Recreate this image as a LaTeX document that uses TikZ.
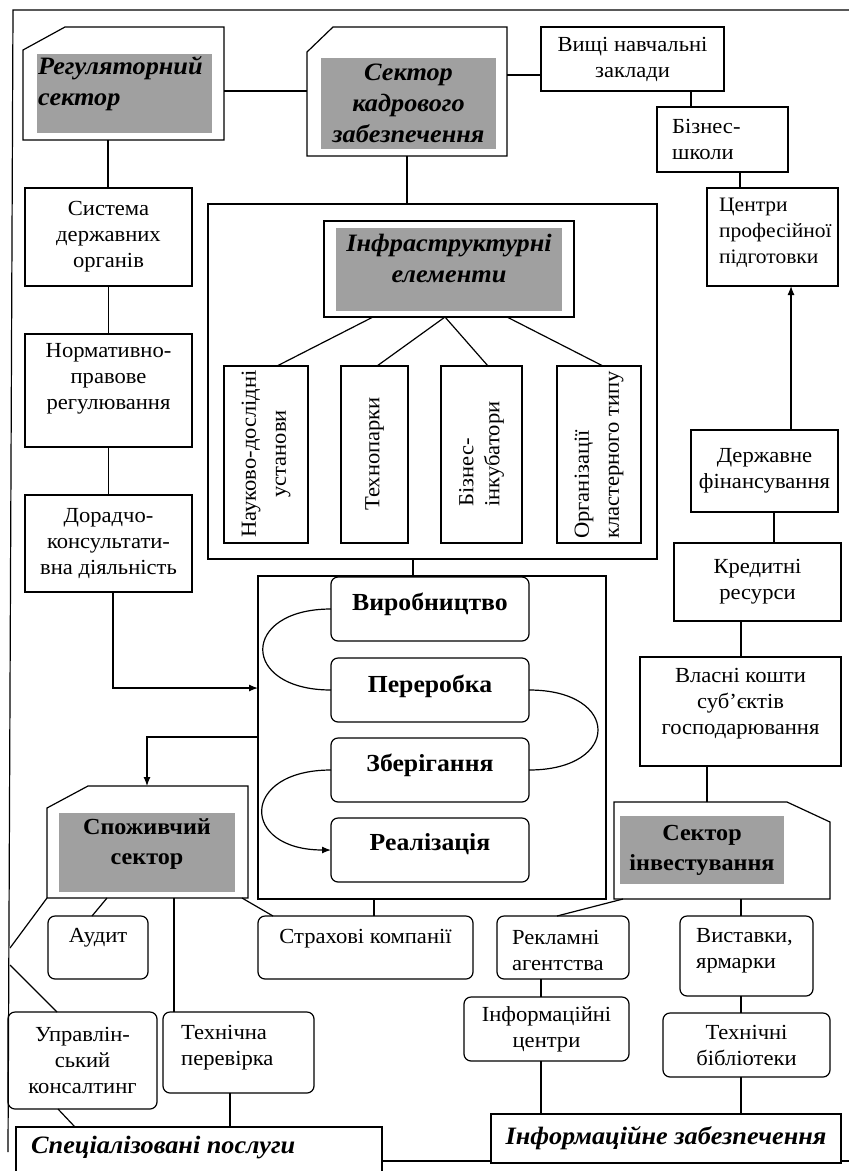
\documentclass[tikz,border=0pt]{standalone}
\usepackage{fontspec}
\setmainfont{Liberation Serif}[FakeStretch=1.05]
\usetikzlibrary{arrows.meta,calc}
\definecolor{boxgray}{RGB}{160,160,160}
\newcommand\bx[7]{\node[#1, minimum width={#5-#3}, minimum height={#6-#4}] (#2) at ({(#3+#5)/2},{(#4+#6)/2}) {#7};}
\begin{document}
\begin{tikzpicture}[x=1pt,y=-1pt,
  ghost/.style={inner sep=0pt, outer sep=0pt, draw=none},
  box/.style={draw, line width=1.2pt, inner sep=0pt, outer sep=0pt, align=center, font=\fontsize{21.5}{26}\selectfont},
  rbox/.style={box, rounded corners=7pt},
  grayf/.style={fill=boxgray, draw=none, inner sep=0pt, outer sep=0pt, align=center},
  txt/.style={inner sep=0pt, align=center, font=\fontsize{21.5}{26}\selectfont},
  txtl/.style={txt, align=left},
  vtxt/.style={txt, rotate=90, font=\fontsize{21.5}{30}\selectfont},
  bi/.style={font=\fontsize{25}{31}\selectfont\bfseries\itshape},
  bhead/.style={font=\fontsize{23}{30}\selectfont\bfseries},
  bproc/.style={inner sep=0pt, font=\fontsize{24.5}{28}\selectfont\bfseries},
  conn/.style={line width=1.2pt},
  arr/.style={conn, -{Latex[length=9pt,width=7pt]}}]
\useasboundingbox (0,0) rectangle (849,1171);
\clip (0,0) rectangle (849,1171);
% frame
\coordinate (ftl) at (13,10);
\coordinate (ftr) at (849,10);
\coordinate (fbl) at (8,1152);
\draw[conn] (ftr) -- (ftl) -- (fbl);
% regulatory sector
\bx{ghost}{reg}{23}{27}{224}{140}{}
\draw[conn] ([xshift=42pt]reg.north west) -- (reg.north east) -- (reg.south east) -- (reg.south west) -- ([yshift=-23pt]reg.north west) -- cycle;
\bx{grayf}{reggray}{37}{54}{212}{133}{}
\node[inner sep=0pt, bi, anchor=west, align=left] (regt) at (38,84) {Регуляторний\\сектор};
% staffing sector
\bx{ghost}{sec}{307}{27}{507}{156}{}
\draw[conn] ([xshift=26pt]sec.north west) -- (sec.north east) -- (sec.south east) -- (sec.south west) -- ([yshift=-25pt]sec.north west) -- cycle;
\bx{grayf,bi}{secgray}{321}{58}{496}{149}{Сектор\\кадрового\\забезпечення}
% right column
\bx{box}{vnz}{541}{27}{724}{91}{Вищі навчальні\\заклади}
\bx{box}{bs}{657}{107}{788}{172}{}
\node[txtl, anchor=west] (bst) at (672,139.5) {Бізнес-\\школи};
\bx{box}{cpp}{707}{188}{838}{286}{}
\node[txtl, anchor=west, font=\fontsize{20.5}{26}\selectfont] (cppt) at (719,233) {Центри\\професійної\\підготовки};
\bx{box}{df}{691}{430}{838}{512}{Державне\\фінансування}
\bx{box}{kr}{674}{543}{841}{621}{Кредитні\\ресурси}
\bx{box}{vk}{640}{657}{841}{766}{}
\node[txt] (vkt) at (740.5,704) {Власні кошти\\суб’єктів\\господарювання};
\bx{ghost}{inv}{614}{802}{830}{899}{}
\draw[conn] (inv.north west) -- ([xshift=-43pt]inv.north east) -- ([yshift=-20pt]inv.north east) -- (inv.south east) -- (inv.south west) -- cycle;
\bx{grayf,bhead}{invgray}{620}{816}{784}{884}{Сектор\\інвестування}
% infrastructure
\bx{box}{infr}{208}{204}{657}{559}{}
\bx{box}{inf}{324}{221}{574}{317}{}
\bx{grayf}{infgray}{336}{228}{562}{311}{}
\node[inner sep=0pt, bi, align=center] (inft) at (449,258) {Інфраструктурні\\елементи};
\bx{box}{v1}{224}{366}{308}{543}{}
\node[vtxt] (v1t) at (266,454) {Науково-дослідні\\установи};
\bx{box}{v2}{341}{366}{408}{543}{}
\node[vtxt] (v2t) at (374.5,454) {Технопарки};
\bx{box}{v3}{441}{366}{522}{543}{}
\node[vtxt, align=left, font=\fontsize{21.5}{26}\selectfont] (v3t) at (481.5,454) {Бізнес-\\інкубатори};
\bx{box}{v4}{557}{366}{641}{543}{}
\node[vtxt, align=left] (v4t) at (599,455) {Організації\\кластерного типу};
% process
\bx{box}{pf}{258}{576}{606}{899}{}
\bx{rbox}{p1}{331}{577}{529}{641}{}
\node[bproc] (p1t) at (430,604) {Виробництво};
\bx{rbox}{p2}{331}{658}{529}{722}{}
\node[bproc] (p2t) at (430,686) {Переробка};
\bx{rbox}{p3}{331}{738}{529}{802}{}
\node[bproc] (p3t) at (430,765) {Зберігання};
\bx{rbox}{p4}{331}{818}{529}{882}{}
\node[bproc] (p4t) at (430,844) {Реалізація};
% left column
\bx{box}{sys}{25}{188}{192}{286}{Система\\державних\\органів}
\bx{box}{norm}{25}{334}{192}{447}{}
\node[txt] (normt) at (108.5,379) {Нормативно-\\правове\\регулювання};
\bx{box}{dor}{25}{495}{192}{592}{Дорадчо-\\консультати-\\вна діяльність}
% consumer sector
\bx{ghost}{cons}{47}{786}{248}{898}{}
\draw[conn] ([xshift=41pt]cons.north west) -- (cons.north east) -- (cons.south east) -- (cons.south west) -- ([yshift=-22pt]cons.north west) -- cycle;
\bx{grayf}{consgray}{59}{813}{235}{892}{}
\node[inner sep=0pt, bhead, align=center] (const) at (147,844) {Споживчий\\сектор};
% bottom boxes
\bx{rbox}{aud}{48}{916}{148}{979}{}
\node[txt] (audt) at (98,938) {Аудит};
\bx{rbox}{str}{258}{916}{473}{979}{}
\node[txt] (strt) at (365.5,939) {Страхові компанії};
\bx{rbox}{upr}{8}{1012}{157}{1109}{Управлін-\\ський\\консалтинг}
\bx{rbox}{tech}{163}{1012}{314}{1093}{}
\node[txtl, anchor=west] (techt) at (181,1048) {Технічна\\перевірка};
\bx{box}{spec}{16}{1127}{382}{1185}{}
\node[inner sep=0pt, bi, anchor=west] (spect) at (31,1148) {Спеціалізовані послуги};
\bx{rbox}{rek}{497}{916}{629}{979}{}
\node[txtl, anchor=west] (rekt) at (512,950) {Рекламні\\агентства};
\bx{rbox}{vys}{680}{916}{813}{996}{}
\node[txtl, anchor=west] (vyst) at (696,951) {Виставки,\\ярмарки};
\bx{rbox}{ic}{464}{997}{629}{1061}{Інформаційні\\центри}
\bx{rbox}{tb}{663}{1013}{830}{1077}{Технічні\\бібліотеки}
\coordinate (fbr) at (849,1161);
\draw[conn] (spec.east |- fbr) -- (fbr);
\bx{box,fill=white,bi}{iz}{491}{1114}{841}{1163}{Інформаційне забезпечення}
% connectors
\draw[conn] (reg.east |- 0,91) -- (sec.west |- 0,91);
\draw[conn] (sec.east |- 0,75) -- (vnz.west |- 0,75);
\draw[conn] (vnz.south -| 691,0) -- (bs.north -| 691,0);
\draw[conn] (bs.south -| 740,0) -- (cpp.north -| 740,0);
\draw[arr] (df.north -| 791,0) -- (cpp.south -| 791,0);
\draw[conn] (df.south -| 774,0) -- (kr.north -| 774,0);
\draw[conn] (kr.south -| 741,0) -- (vk.north -| 741,0);
\draw[conn] (vk.south -| 707,0) -- (inv.north -| 707,0);
\draw[conn] (sec.south -| 407,0) -- (infr.north -| 407,0);
\draw[conn] (inf.south -| 373,0) -- (v1.north -| 277,0);
\draw[conn] (inf.south -| 445,0) -- (v2.north -| 377,0);
\draw[conn] (inf.south -| 445,0) -- (v3.north -| 488,0);
\draw[conn] (inf.south -| 507,0) -- (v4.north -| 603,0);
\draw[conn] (infr.south -| 413,0) -- (pf.north -| 413,0);
\draw[conn] (reg.south -| 108,0) -- (sys.north -| 108,0);
\draw[conn] (sys.south) -- (norm.north);
\draw[conn] (norm.south) -- (dor.north);
\draw[arr] (dor.south -| 113,0) |- (pf.west |- 0,688);
\draw[arr] (pf.west |- 0,737) -| (cons.north -| 147,0);
\draw[conn] (p1.west) .. controls +(-91,0) and +(-91,0) .. (p2.west);
\draw[conn] (p2.east) .. controls +(92,0) and +(92,0) .. (p3.east);
\draw[arr] (p3.west) .. controls +(-91,0) and +(-91,0) .. (p4.west);
\coordinate (fl1) at (10,948);
\coordinate (fl2) at (10,965);
\draw[conn] (cons.south -| 107,0) -- (aud.north -| 92,0);
\draw[conn] (cons.south west) -- (fl1);
\draw[conn] (fl2) -- (upr.north -| 57,0);
\draw[conn] (cons.south -| 174,0) -- (tech.north -| 174,0);
\draw[conn] (cons.south -| 242,0) -- (str.north -| 273,0);
\draw[conn] (pf.south -| 374,0) -- (str.north -| 374,0);
\draw[conn] (upr.south -| 58,0) -- (spec.north -| 75,0);
\draw[conn] (tech.south -| 230,0) -- (spec.north -| 230,0);
\draw[conn] (inv.south -| 623,0) -- (rek.north -| 557,0);
\draw[conn] (inv.south -| 741,0) -- (vys.north -| 741,0);
\draw[conn] (rek.south -| 541,0) -- (ic.north -| 541,0);
\draw[conn] (ic.south -| 541,0) -- (iz.north -| 541,0);
\draw[conn] (vys.south -| 741,0) -- (tb.north -| 741,0);
\draw[conn] (tb.south -| 741,0) -- (iz.north -| 741,0);
\end{tikzpicture}
\end{document}
